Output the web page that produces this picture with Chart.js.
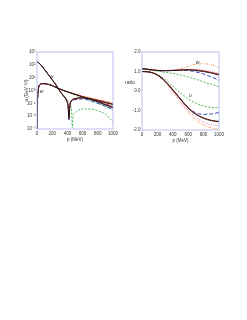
<!DOCTYPE html>
<html>
<head>
<meta charset="utf-8">
<script src="https://cdn.jsdelivr.net/npm/chart.js@4"></script>
<style>
    body { margin: 0; background: #fff; width: 247px; height: 320px; position: relative; overflow: hidden; }
    canvas { position: absolute; }
    #wfChart { left: 20px; top: 40px; }
    #ratioChart { left: 122px; top: 40px; }
</style>
</head>
<body>
<canvas id="wfChart" width="102" height="102"></canvas>
<canvas id="ratioChart" width="125" height="103"></canvas>
<script>
// models, drawn top to bottom in this order
const modelColors = ['#1a1a1a', '#d42a1e', '#2a36b8', '#3fae49', '#f4a46a', '#e07ab8'];
const modelDash = [[], [], [4, 2], [2, 1.5], [3, 1.2, 1, 1.2], [1, 1.2]];

// left panel: S-wave u(p) and D-wave w(p), GeV^-3/2
const pU = [0, 50, 100, 150, 200, 250, 300, 350, 390, 410, 420, 430, 450, 500, 600, 700, 800, 900, 1000];
const pUGreen = [0, 50, 100, 150, 200, 250, 300, 350, 400, 440, 455, 465, 475, 500, 550, 600, 700, 800, 900, 1000];
const uBlack = [186, 100, 42, 17, 6.9, 2.7, 0.9, 0.37, 0.16, 0.053, 0.006, 0.05, 0.15, 0.23, 0.27, 0.21, 0.13, 0.075, 0.045];
const uRed = [190, 100, 42, 17, 7, 2.7, 0.92, 0.38, 0.17, 0.06, 0.008, 0.045, 0.14, 0.22, 0.27, 0.22, 0.14, 0.085, 0.05];
const uBlue = [186, 100, 42, 17, 6.9, 2.7, 0.88, 0.35, 0.15, 0.05, 0.005, 0.045, 0.13, 0.19, 0.22, 0.17, 0.1, 0.06, 0.035];
const uGreen = [186, 100, 42, 17, 6.9, 2.7, 0.9, 0.42, 0.2, 0.075, 0.03, 0.0012, 0.008, 0.018, 0.03, 0.036, 0.036, 0.027, 0.014, 0.0035];
const uOrange = [186, 100, 42, 17, 6.9, 2.7, 0.9, 0.37, 0.16, 0.055, 0.007, 0.05, 0.15, 0.24, 0.3, 0.25, 0.17, 0.1, 0.065];
const uPink = [188, 100, 42, 17, 7, 2.7, 0.91, 0.38, 0.17, 0.058, 0.007, 0.047, 0.145, 0.23, 0.28, 0.23, 0.15, 0.09, 0.055];

const pW = [0, 5, 10, 20, 40, 60, 100, 150, 200, 280, 400, 500, 600, 700, 800, 900, 1000];
const wBlack = [0.001, 0.09, 0.37, 1.5, 2.9, 3.4, 3.4, 3.0, 2.4, 1.45, 0.78, 0.5, 0.32, 0.22, 0.16, 0.115, 0.08];
const wRed = [0.001, 0.09, 0.37, 1.5, 2.9, 3.4, 3.4, 3.0, 2.4, 1.45, 0.8, 0.52, 0.34, 0.24, 0.18, 0.13, 0.09];
const wBlue = [0.001, 0.09, 0.37, 1.5, 2.9, 3.4, 3.4, 3.0, 2.4, 1.45, 0.78, 0.5, 0.32, 0.21, 0.14, 0.09, 0.055];
const wGreen = [0.001, 0.09, 0.37, 1.5, 2.9, 3.4, 3.4, 3.0, 2.4, 1.4, 0.75, 0.45, 0.27, 0.16, 0.1, 0.06, 0.03];
const wOrange = [0.001, 0.09, 0.37, 1.5, 2.9, 3.4, 3.4, 3.0, 2.4, 1.5, 0.82, 0.55, 0.37, 0.27, 0.2, 0.15, 0.11];
const wPink = [0.001, 0.09, 0.37, 1.5, 2.9, 3.4, 3.4, 3.0, 2.4, 1.45, 0.79, 0.51, 0.33, 0.23, 0.17, 0.12, 0.085];

const logTicks = [1e-3, 1e-2, 1e-1, 1, 10, 100, 1000];
const logTickLabels = ['10⁻³', '10⁻²', '10⁻¹', '10⁰', '10¹', '10²', '10³'];

// right panel: ratios
const pR = [0, 100, 200, 300, 400, 500, 600, 700, 800, 900, 1000];
const rwBlack = [1.15, 1.1, 1.05, 1.04, 1.05, 1.07, 1.08, 1.05, 1.0, 0.92, 0.82];
const rwRed = [1.15, 1.1, 1.06, 1.05, 1.06, 1.08, 1.1, 1.08, 1.03, 0.95, 0.86];
const rwBlue = [1.15, 1.1, 1.05, 1.04, 1.05, 1.06, 1.05, 0.98, 0.87, 0.72, 0.55];
const rwGreen = [1.12, 1.08, 1.02, 0.96, 0.9, 0.82, 0.72, 0.6, 0.47, 0.34, 0.22];
const rwOrange = [1.12, 1.08, 1.05, 1.04, 1.07, 1.15, 1.27, 1.37, 1.4, 1.35, 1.2];
const rwPink = [1.15, 1.1, 1.05, 1.05, 1.06, 1.08, 1.1, 1.1, 1.07, 1.0, 0.9];

const ruBlack = [1.0, 0.97, 0.82, 0.5, 0.05, -0.42, -0.88, -1.2, -1.4, -1.52, -1.58];
const ruRed = [1.0, 0.97, 0.83, 0.52, 0.08, -0.4, -0.85, -1.18, -1.38, -1.5, -1.56];
const ruBlue = [1.0, 0.97, 0.82, 0.5, 0.05, -0.42, -0.88, -1.12, -1.2, -1.18, -1.1];
const ruGreen = [1.0, 0.97, 0.85, 0.6, 0.25, -0.1, -0.4, -0.62, -0.77, -0.84, -0.86];
const ruOrange = [1.0, 0.96, 0.8, 0.45, -0.05, -0.6, -1.1, -1.48, -1.75, -1.9, -1.95];
const ruPink = [1.0, 0.96, 0.8, 0.47, 0.0, -0.5, -1.0, -1.35, -1.6, -1.72, -1.78];

const xTicks = [0, 200, 400, 600, 800, 1000];
const boxColor = '#aab0ee';
const textColor = '#333';
const fontFamily = '"Liberation Sans", Arial, sans-serif';

function pts(xs, ys) {
    return xs.map((x, i) => ({ x: x, y: ys[i] }));
}

function line(xs, ys, m) {
    return {
        data: pts(xs, ys),
        borderColor: modelColors[m],
        borderDash: modelDash[m],
        borderWidth: m < 2 ? 1 : 0.9,
        pointRadius: 0,
        fill: false,
        cubicInterpolationMode: 'monotone'
    };
}

// frame round the plot area plus small texts placed on the scales
const frameBox = {
    id: 'frameBox',
    afterDatasetsDraw(chart, args, opts) {
        const ctx = chart.ctx;
        const a = chart.chartArea;
        ctx.save();
        ctx.strokeStyle = boxColor;
        ctx.lineWidth = 0.8;
        ctx.strokeRect(a.left, a.top, a.right - a.left, a.bottom - a.top);
        ctx.font = 'italic 5px ' + fontFamily;
        ctx.fillStyle = textColor;
        ctx.textAlign = 'center';
        ctx.textBaseline = 'middle';
        (opts.labels || []).forEach(l => {
            ctx.fillText(l.text, chart.scales.x.getPixelForValue(l.p), chart.scales.y.getPixelForValue(l.v));
        });
        if (opts.sideTitle) {
            ctx.font = '5px ' + fontFamily;
            ctx.textAlign = 'left';
            ctx.fillText(opts.sideTitle.text, 3, chart.scales.y.getPixelForValue(opts.sideTitle.v));
        }
        ctx.restore();
    }
};

const tickFont = { size: 4.5, family: fontFamily };

function xAxis() {
    return {
        type: 'linear',
        min: 0,
        max: 1000,
        afterBuildTicks: (scale) => { scale.ticks = xTicks.map(v => ({ value: v })); },
        ticks: { font: tickFont, color: textColor, padding: 2, maxRotation: 0, callback: (v) => String(v) },
        grid: { display: false, drawTicks: false },
        border: { display: false },
        title: { display: true, text: 'p (MeV)', font: tickFont, color: textColor, padding: { top: 0.3, bottom: 0 } },
        afterFit: (scale) => { scale.height = 13; }
    };
}

const wfDatasets = [
    line(pU, uBlack, 0), line(pW, wBlack, 0),
    line(pU, uRed, 1), line(pW, wRed, 1),
    line(pU, uBlue, 2), line(pW, wBlue, 2),
    line(pU, uPink, 5), line(pW, wPink, 5),
    line(pUGreen, uGreen, 3), line(pW, wGreen, 3),
    line(pU, uOrange, 4), line(pW, wOrange, 4)
];

const wfChart = new Chart(document.getElementById('wfChart').getContext('2d'), {
    type: 'line',
    data: { datasets: wfDatasets },
    plugins: [frameBox],
    options: {
        responsive: false,
        animation: false,
        devicePixelRatio: 1,
        layout: { padding: { top: 12, right: 9, left: 0, bottom: 0 } },
        scales: {
            x: xAxis(),
            y: {
                type: 'logarithmic',
                min: 1e-3,
                max: 1e3,
                afterBuildTicks: (scale) => { scale.ticks = logTicks.map(v => ({ value: v })); },
                ticks: {
                    font: tickFont, color: textColor, padding: 1.5,
                    callback: (v, i) => logTickLabels[i]
                },
                grid: { display: false, drawTicks: false },
                border: { display: false },
                title: { display: true, text: 'u (GeV⁻³/²)', font: tickFont, color: textColor, padding: { top: 4, bottom: 0 } },
                afterFit: (scale) => { scale.width = 17; }
            }
        },
        plugins: {
            legend: { display: false },
            tooltip: { enabled: false },
            frameBox: { labels: [{ text: 'u', p: 200, v: 12 }, { text: 'w', p: 60, v: 0.8 }] }
        }
    }
});

const ratioDatasets = [
    line(pR, rwBlack, 0), line(pR, ruBlack, 0),
    line(pR, rwRed, 1), line(pR, ruRed, 1),
    line(pR, rwBlue, 2), line(pR, ruBlue, 2),
    line(pR, rwPink, 5), line(pR, ruPink, 5),
    line(pR, rwGreen, 3), line(pR, ruGreen, 3),
    line(pR, rwOrange, 4), line(pR, ruOrange, 4)
];

const ratioChart = new Chart(document.getElementById('ratioChart').getContext('2d'), {
    type: 'line',
    data: { datasets: ratioDatasets },
    plugins: [frameBox],
    options: {
        responsive: false,
        animation: false,
        devicePixelRatio: 1,
        layout: { padding: { top: 12, right: 28, left: 0, bottom: 0 } },
        scales: {
            x: xAxis(),
            y: {
                type: 'linear',
                min: -2,
                max: 2,
                ticks: {
                    stepSize: 1, font: tickFont, color: textColor, padding: 1.5,
                    callback: (v) => v.toFixed(1)
                },
                grid: { display: false, drawTicks: false },
                border: { display: false },
                afterFit: (scale) => { scale.width = 20; }
            }
        },
        plugins: {
            legend: { display: false },
            tooltip: { enabled: false },
            frameBox: {
                labels: [{ text: 'w', p: 720, v: 1.47 }, { text: 'u', p: 630, v: -0.25 }],
                sideTitle: { text: 'ratio', v: 0.45 }
            }
        }
    }
});
</script>
</body>
</html>
